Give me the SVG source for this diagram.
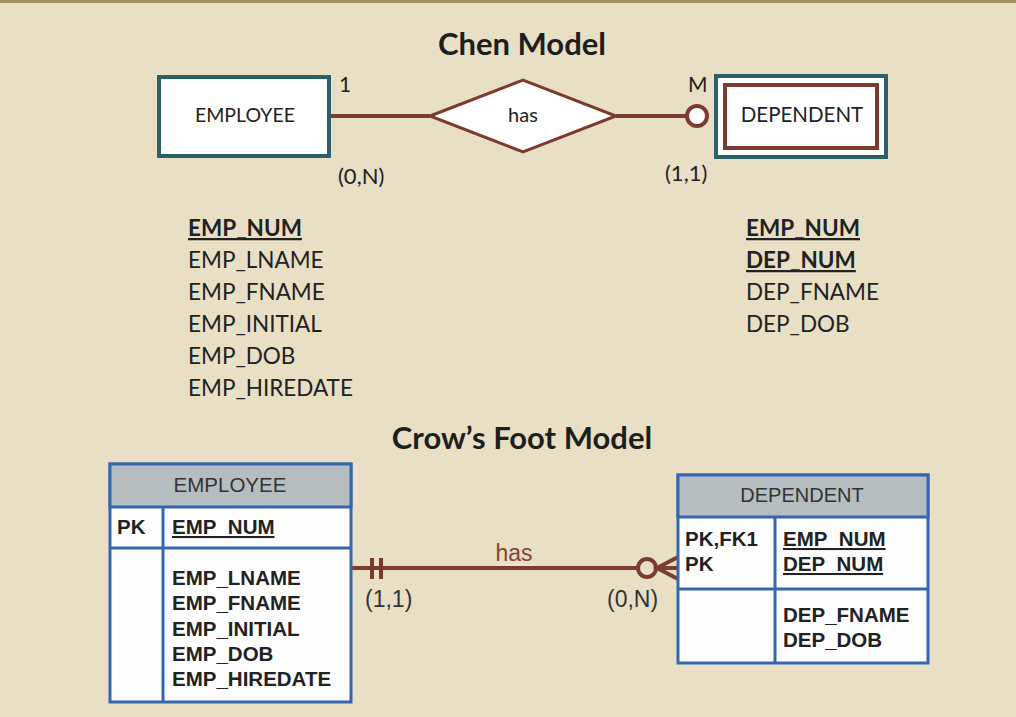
<svg xmlns="http://www.w3.org/2000/svg" width="1016" height="717" viewBox="0 0 1016 717">
<style>
.chen{font-family:Lato,"Open Sans",sans-serif;fill:#222}
.title{font-family:Lato,sans-serif;font-weight:bold;font-size:31px;fill:#1e1e1e}
.attr{font-size:22.5px}
.b{font-weight:bold;text-decoration:underline}
.cf{font-family:"Liberation Sans",Arial,sans-serif;fill:#222}
.cfb{font-weight:bold;font-size:20.5px}
.tbl{fill:#fdfdfd;stroke:#3467b0;stroke-width:3}
.hdr{fill:#b6bdc1;stroke:#3467b0;stroke-width:3}
.sep{stroke:#3467b0;stroke-width:3}
.brown{stroke:#7b3b2f;stroke-width:4;fill:none}
</style>
<rect x="0" y="0" width="1016" height="717" fill="#e8dfc5"/>
<rect x="0" y="0" width="1016" height="3" fill="#a0935a"/>

<text class="title" x="522" y="55" text-anchor="middle">Chen Model</text>

<g id="connectors">
  <line class="brown" x1="330" y1="116" x2="430" y2="116"/>
  <line class="brown" x1="616" y1="116" x2="688" y2="116"/>
  <circle cx="697" cy="116" r="10" fill="#fff" stroke="#7b3b2f" stroke-width="4"/>
  <text class="chen" x="339" y="92" font-size="21">1</text>
  <text class="chen" x="688" y="92" font-size="21">M</text>
  <text class="chen" x="338" y="184" font-size="22">(0,N)</text>
  <text class="chen" x="665" y="181" font-size="22">(1,1)</text>

  <line class="brown" x1="351" y1="568" x2="638" y2="568"/>
  <line class="brown" x1="372" y1="558" x2="372" y2="579" stroke-width="3.5"/>
  <line class="brown" x1="381" y1="558" x2="381" y2="579" stroke-width="3.5"/>
  <circle cx="647" cy="568" r="9" fill="none" stroke="#7b3b2f" stroke-width="4"/>
  <path class="brown" d="M678 557 L657 568 L678 579 M657 568 L678 568" stroke-width="3.5"/>
  <text class="cf" x="514" y="561" font-size="23" text-anchor="middle" style="fill:#8a3f38">has</text>
  <text class="cf" x="365" y="607" font-size="23" style="fill:#333">(1,1)</text>
  <text class="cf" x="607" y="607" font-size="23" style="fill:#333">(0,N)</text>
</g>

<g id="chen-employee">
  <rect x="159" y="77" width="170" height="79" fill="#fff" stroke="#2d5f66" stroke-width="4"/>
  <text class="chen" x="245" y="122" font-size="19.5" text-anchor="middle">EMPLOYEE</text>
</g>

<g id="chen-has">
  <polygon points="430,116 523,80 616,116 523,152" fill="#fff" stroke="#7b3b2f" stroke-width="3"/>
  <text class="chen" x="523" y="122" font-size="20" text-anchor="middle">has</text>
</g>

<g id="chen-dependent">
  <rect x="716" y="76" width="170" height="81" fill="#fff" stroke="#2d5f66" stroke-width="4"/>
  <rect x="725" y="85" width="152" height="63" fill="#fff" stroke="#7b3b2f" stroke-width="4"/>
  <text class="chen" x="802" y="122" font-size="20.5" text-anchor="middle">DEPENDENT</text>
</g>

<g id="chen-employee-attrs" class="chen attr">
  <text x="188" y="236" class="b">EMP_NUM</text>
  <text x="188" y="268">EMP_LNAME</text>
  <text x="188" y="300">EMP_FNAME</text>
  <text x="188" y="332">EMP_INITIAL</text>
  <text x="188" y="364">EMP_DOB</text>
  <text x="188" y="396">EMP_HIREDATE</text>
</g>

<g id="chen-dependent-attrs" class="chen attr">
  <text x="746" y="236" class="b">EMP_NUM</text>
  <text x="746" y="268" class="b">DEP_NUM</text>
  <text x="746" y="300">DEP_FNAME</text>
  <text x="746" y="332">DEP_DOB</text>
</g>

<text class="title" x="522" y="449" text-anchor="middle">Crow’s Foot Model</text>

<g id="cf-employee">
  <rect class="tbl" x="110" y="464" width="241" height="238"/>
  <rect class="hdr" x="110" y="464" width="241" height="43"/>
  <line class="sep" x1="110" y1="548" x2="351" y2="548"/>
  <line class="sep" x1="163" y1="507" x2="163" y2="702"/>
  <text class="cf" x="230" y="492" font-size="20.5" text-anchor="middle" style="fill:#333">EMPLOYEE</text>
  <text class="cf cfb" x="117" y="534">PK</text>
  <text class="cf cfb" x="172" y="534" text-decoration="underline">EMP_NUM</text>
  <text class="cf cfb" x="172" y="585">EMP_LNAME</text>
  <text class="cf cfb" x="172" y="610">EMP_FNAME</text>
  <text class="cf cfb" x="172" y="636">EMP_INITIAL</text>
  <text class="cf cfb" x="172" y="661">EMP_DOB</text>
  <text class="cf cfb" x="172" y="686">EMP_HIREDATE</text>
</g>

<g id="cf-dependent">
  <rect class="tbl" x="678" y="475" width="250" height="188"/>
  <rect class="hdr" x="678" y="475" width="250" height="42"/>
  <line class="sep" x1="678" y1="589" x2="928" y2="589"/>
  <line class="sep" x1="775" y1="517" x2="775" y2="663"/>
  <text class="cf" x="802" y="502" font-size="20" text-anchor="middle" style="fill:#333">DEPENDENT</text>
  <text class="cf cfb" x="685" y="546">PK,FK1</text>
  <text class="cf cfb" x="685" y="571">PK</text>
  <text class="cf cfb" x="783" y="546" text-decoration="underline">EMP_NUM</text>
  <text class="cf cfb" x="783" y="571" text-decoration="underline">DEP_NUM</text>
  <text class="cf cfb" x="783" y="622">DEP_FNAME</text>
  <text class="cf cfb" x="783" y="647">DEP_DOB</text>
</g>
</svg>
